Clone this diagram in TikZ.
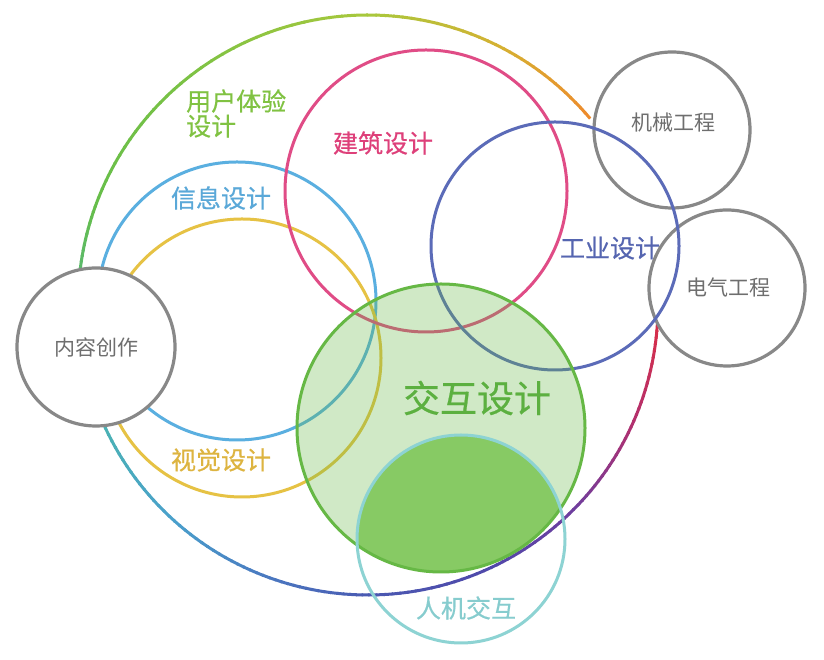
\documentclass[tikz,border=0pt]{standalone}
\usepackage{fontspec}
\setmainfont{Noto Sans CJK SC}
\newfontfamily\semibold[FakeBold=0.6]{Noto Sans CJK SC}
\definecolor{gA}{HTML}{EE8A2C}
\definecolor{gB}{HTML}{D6B032}
\definecolor{gC}{HTML}{A8C83C}
\definecolor{gD}{HTML}{7AC245}
\definecolor{gE}{HTML}{66BE4A}
\definecolor{gF}{HTML}{56B87A}
\definecolor{gG}{HTML}{4AB2B4}
\definecolor{gH}{HTML}{4AA0CC}
\definecolor{gI}{HTML}{4A78C0}
\definecolor{gJ}{HTML}{4A5AB2}
\definecolor{gK}{HTML}{5048AA}
\definecolor{gL}{HTML}{6E3E9E}
\definecolor{gM}{HTML}{B03070}
\definecolor{gN}{HTML}{D82E48}
\definecolor{cxinxi}{HTML}{5AAFE0}
\definecolor{cshijue}{HTML}{E6C244}
\definecolor{cjianzhu}{HTML}{E04C86}
\definecolor{cgongye}{HTML}{5B6BB8}
\definecolor{chudong}{HTML}{66B845}
\definecolor{chdark}{HTML}{87CA64}
\definecolor{crenji}{HTML}{8DD3D3}
\definecolor{cgray}{HTML}{888888}
\definecolor{ctext}{HTML}{6E6E6E}
\definecolor{cuser}{HTML}{80C242}
\definecolor{txinxi}{HTML}{5AA8D8}
\definecolor{tshijue}{HTML}{DDB440}
\definecolor{tjianzhu}{HTML}{DE407A}
\definecolor{tgongye}{HTML}{5565B0}
\definecolor{thudong}{HTML}{5CB040}
\definecolor{trenji}{HTML}{86CCCE}
\newcommand\gradseg[4]{%
  \foreach \k in {0,...,15}{%
    \pgfmathsetmacro\gsA{#1+(#2-#1)*\k/16}%
    \pgfmathsetmacro\gsB{#1+(#2-#1)*(\k+1)/16+0.3}%
    \pgfmathtruncatemacro\gsP{100*(\k+0.5)/16}%
    \draw[line width=3pt,color=#4!\gsP!#3] ([shift={(\gsA:290pt)}]oc) arc[start angle=\gsA,end angle=\gsB,radius=290pt];%
  }}
\tikzset{
  ring/.style={line width=3pt},
  grayring/.style={line width=3.2pt, draw=cgray, fill=white},
  lbl/.style={font=\semibold\fontsize{25}{25}\selectfont, inner sep=0pt},
  glbl/.style={font=\fontsize{21}{21}\selectfont, text=ctext, inner sep=0pt},
}
\begin{document}
\begin{tikzpicture}[x=1pt,y=1pt]
\useasboundingbox (0,0) rectangle (824,660);
\fill[white] (0,0) rectangle (824,660);
% centres
\coordinate (oc) at (368,355);
\coordinate (nr) at (96,313);
\coordinate (jx) at (672,530);
\coordinate (dq) at (727,372);
\coordinate (xx) at (237,359);
\coordinate (sj) at (242,302);
\coordinate (jz) at (426,469);
\coordinate (gy) at (555,414);
\coordinate (hd) at (441,232);
\coordinate (rj) at (461,121);
% outer gradient circle (user experience design)
\gradseg{40}{62}{gA}{gB}
\gradseg{62}{90}{gB}{gC}
\gradseg{90}{130}{gC}{gD}
\gradseg{130}{160}{gD}{gE}
\gradseg{160}{178}{gE}{gF}
\gradseg{178}{205}{gF}{gG}
\gradseg{205}{228}{gG}{gH}
\gradseg{228}{250}{gH}{gI}
\gradseg{250}{270}{gI}{gJ}
\gradseg{270}{295}{gJ}{gK}
\gradseg{295}{315}{gK}{gL}
\gradseg{315}{335}{gL}{gM}
\gradseg{335}{356}{gM}{gN}
% coloured rings
\draw[ring, cxinxi] (xx) circle[radius=139pt];
\draw[ring, cshijue] (sj) circle[radius=139pt];
\draw[ring, cjianzhu] (jz) circle[radius=141pt];
% grey rings
\draw[grayring] (nr) circle[radius=79pt];
\draw[grayring] (jx) circle[radius=78pt];
\draw[grayring] (dq) circle[radius=78pt];
\draw[ring, cgongye] (gy) circle[radius=124pt];
% interaction design
\fill[chudong, fill opacity=0.3] (hd) circle[radius=144pt];
\begin{scope}
  \clip (hd) circle[radius=144pt];
  \fill[chdark] (rj) circle[radius=104pt];
\end{scope}
\draw[ring, chudong] (hd) circle[radius=144pt];
\draw[ring, crenji] (rj) circle[radius=104pt];
% labels
\node[lbl, text=cuser, anchor=west, align=left, font=\semibold\fontsize{25}{25}\selectfont] (tuser) at (186,546.5) {用户体验\\设计};
\node[lbl, text=txinxi] (txx) at (221,462) {信息设计};
\node[lbl, text=tjianzhu] (tjz) at (383,517) {建筑设计};
\node[lbl, text=tgongye] (tgy) at (610,412) {工业设计};
\node[lbl, text=tshijue] (tsj) at (221,200) {视觉设计};
\node[lbl, text=trenji] (trj) at (466,52) {人机交互};
\node[inner sep=0pt, text=thudong, font=\semibold\fontsize{37}{37}\selectfont] (thd) at (477,262) {交互设计};
\node[glbl] (tnr) at (96,313) {内容创作};
\node[glbl] (tjx) at (673,537) {机械工程};
\node[glbl] (tdq) at (728,373) {电气工程};
\end{tikzpicture}
\end{document}
